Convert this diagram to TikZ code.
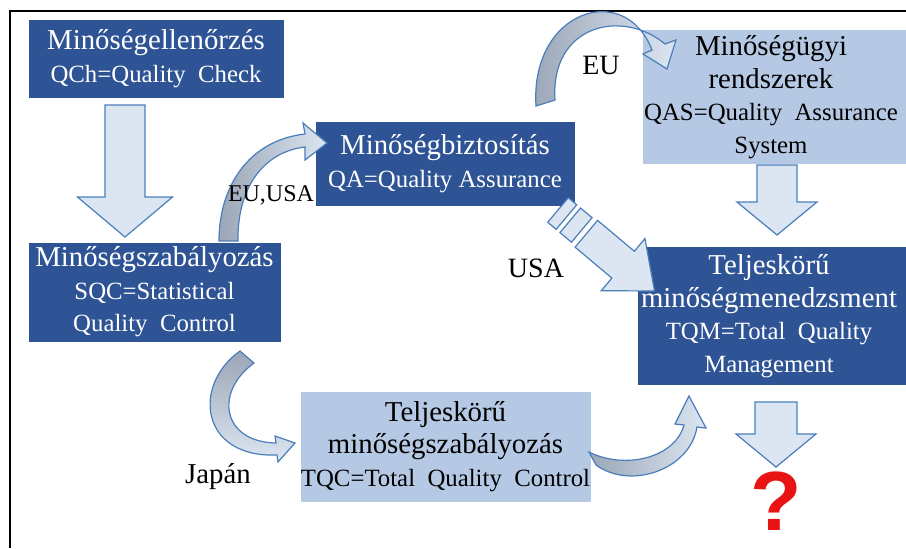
\documentclass[tikz,border=0pt]{standalone}
\usepackage{fontspec}
\setmainfont{Liberation Serif}
\newfontfamily\qfont{Liberation Sans}
\definecolor{dkblue}{RGB}{46,84,149}
\definecolor{ltbox}{RGB}{182,201,228}
\definecolor{arrfill}{RGB}{220,230,242}
\definecolor{arrline}{RGB}{74,126,187}
\definecolor{shadegray}{RGB}{155,166,182}
\definecolor{qred}{RGB}{232,20,20}
\newcommand{\boxfont}{\fontsize{14.4}{16.3}\selectfont}
\newcommand{\acr}[1]{{\fontsize{12.4}{16.3}\selectfont #1}}
\newcommand{\downarr}[6]{%
  \draw[blockarrow] (#1-#5,#2) -- (#1+#5,#2) -- (#1+#5,#3) -- (#1+#6,#3) -- (#1,#4) -- (#1-#6,#3) -- (#1-#5,#3) -- cycle;}
\begin{document}
\begin{tikzpicture}[x=0.5pt,y=-0.5pt,
  darkbox/.style={fill=dkblue, draw=dkblue, text=white, inner sep=0pt, align=center, font=\boxfont},
  lightbox/.style={fill=ltbox, draw=ltbox, text=black, inner sep=0pt, align=center, font=\boxfont},
  blockarrow/.style={fill=arrfill, draw=arrline, line width=0.6pt, line join=miter},
  curv/.style={draw=arrline, line width=0.6pt, line join=miter},
  lbl/.style={font=\boxfont, inner sep=0pt}]
\useasboundingbox (0,0) rectangle (906,548);
\fill[white] (0,0) rectangle (906,548);
\draw[line width=1pt] (10,548) -- (10,11) -- (906,11);

% boxes
\node[darkbox, minimum width=127pt, minimum height=38.5pt] (b1) at (156,58.5)
  {Minőségellenőrzés\\\acr{QCh=Quality\ \ Check}};
\node[darkbox, minimum width=125.5pt, minimum height=49pt] (b2) at (154.5,292)
  {Minőségszabályozás\\\acr{SQC=Statistical}\\\acr{Quality\ \ Control}};
\node[darkbox, minimum width=129pt, minimum height=41.5pt] (b3) at (445,163.5)
  {Minőségbiztosítás\\\acr{QA=Quality Assurance}};
\node[lightbox, minimum width=131.5pt, minimum height=66.5pt] (b4) at (774.5,96.5) {};
\node[lbl, align=center] (t4) at (771,97) {Minőségügyi\\rendszerek\\\acr{QAS=Quality\ \ Assurance}\\\acr{System}};
\node[darkbox, minimum width=134pt, minimum height=68.5pt] (b5) at (772,315.5) {};
\node[lbl, align=center, text=white] (t5) at (769,316) {Teljeskörű\\minőségmenedzsment\\\acr{TQM=Total\ \ Quality}\\\acr{Management}};
\node[lightbox, minimum width=142.5pt, minimum height=54.5pt] (b6) at (445.5,446.5)
  {Teljeskörű\\minőségszabályozás\\\acr{TQC=Total\ \ Quality\ \ Control}};

% straight block arrows
\downarr{125}{105}{197}{237}{20}{47.5}
\downarr{777}{165}{202}{235}{20}{40}
\downarr{776}{402}{434}{467}{21}{40}

% curved arrows
\draw[curv, left color=shadegray, right color=arrfill]
  (219,241) .. controls (219,185) and (250,140) .. (305,134)
  -- (303,123) -- (327,143) -- (305,160)
  -- (305,147) .. controls (262,152) and (237,190) .. (238,241) -- cycle;
\draw[curv, left color=shadegray, right color=arrfill]
  (536,106) .. controls (530,10) and (625,-20) .. (652,50)
  -- (643,54) -- (667,69) -- (676,40) -- (665,44)
  .. controls (622,8) and (550,25) .. (555,100) -- cycle;
\draw[curv, top color=shadegray, bottom color=arrfill]
  (240,351) .. controls (192,385) and (200,458) .. (277,455)
  -- (278,462) -- (295,443) -- (275,436)
  -- (276,443) .. controls (222,442) and (214,392) .. (254,363) -- cycle;
\draw[curv, left color=shadegray, right color=arrfill]
  (596,465) .. controls (630,490) and (690,470) .. (697,427)
  -- (706,428) -- (689,396) -- (675,424)
  -- (684,425) .. controls (675,458) and (625,470) .. (589,452) -- cycle;

% striped USA arrow
\begin{scope}[shift={(558,210)}, rotate=-40]
  \draw[blockarrow] (0,-16) rectangle (11,16);
  \draw[blockarrow] (16,-16) rectangle (31,16);
  \draw[blockarrow] (37,-17.5) -- (85,-17.5) -- (85,-34) -- (126,0) -- (85,34) -- (85,17.5) -- (37,17.5) -- cycle;
\end{scope}

% labels
\node[lbl, font=\fontsize{12}{14}\selectfont] (l1) at (271,195) {EU,USA};
\node[lbl, font=\fontsize{14}{16}\selectfont] (l2) at (601,65) {EU};
\node[lbl, font=\fontsize{14}{16}\selectfont] (l3) at (536,268) {USA};
\node[lbl] (l4) at (218,477) {Japán};
\node[text=qred, font={\qfont\fontsize{42}{42}\selectfont\bfseries}, anchor=base, inner sep=0pt] (q) at (776,530) {?};
\end{tikzpicture}
\end{document}
